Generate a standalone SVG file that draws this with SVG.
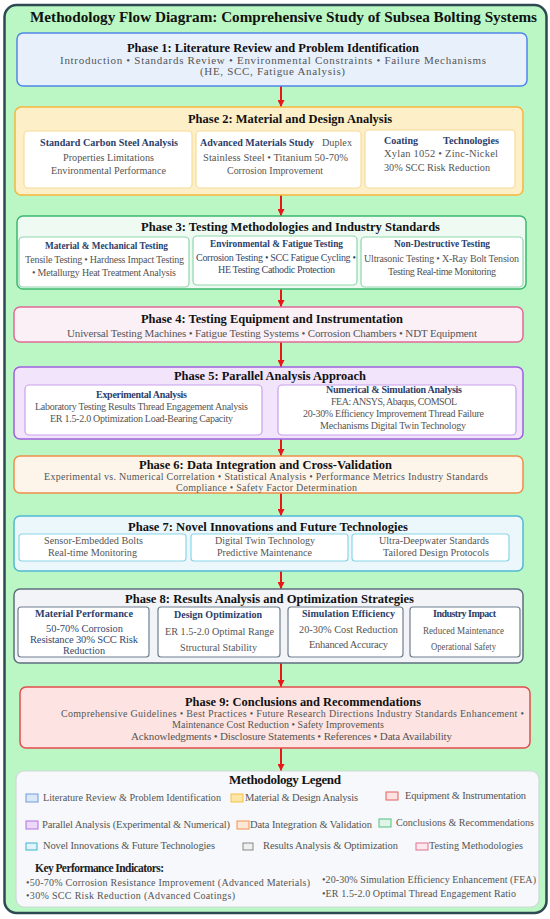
<svg xmlns="http://www.w3.org/2000/svg" width="550" height="919" viewBox="0 0 550 919">
<defs>
<marker id="ah" markerWidth="7" markerHeight="7" refX="7" refY="3.5" orient="auto" markerUnits="userSpaceOnUse"><path d="M0,0 L7,3.5 L0,7 z" fill="#e81818"/></marker>
<style>
text{font-family:"Liberation Serif",Tinos,"Times New Roman",serif}
.ttl{font-size:15.2px;font-weight:bold;fill:#111}
.ph{font-size:12.5px;font-weight:bold;fill:#111}
.tx{font-size:11px;fill:#555}
.tz{font-size:10px;fill:#555}
.sh{font-size:10px;font-weight:bold;fill:#2c3e6b}
.st{font-size:10.5px;fill:#555}
.sm{font-size:10px;fill:#555}
.nv{font-size:10.5px;fill:#34496e}
.lg{font-size:10.5px;fill:#555}
.sb{stroke-width:1.2}
.cn{stroke:#e81818;stroke-width:2;fill:none}
</style>
</defs>
<rect x="4.5" y="5" width="542" height="908" rx="12" fill="#bbf7c4" stroke="#2d4a52" stroke-width="2.5"/>
<text class="ttl" x="30" y="22" textLength="507" lengthAdjust="spacingAndGlyphs">Methodology Flow Diagram: Comprehensive Study of Subsea Bolting Systems</text>

<g id="connectors">
<line class="cn" x1="281" y1="86" x2="281" y2="107" marker-end="url(#ah)"/>
<line class="cn" x1="281" y1="195" x2="281" y2="216" marker-end="url(#ah)"/>
<line class="cn" x1="281" y1="289" x2="281" y2="307" marker-end="url(#ah)"/>
<line class="cn" x1="281" y1="342" x2="281" y2="367" marker-end="url(#ah)"/>
<line class="cn" x1="281" y1="439" x2="281" y2="456" marker-end="url(#ah)"/>
<line class="cn" x1="281" y1="493" x2="281" y2="516" marker-end="url(#ah)"/>
<line class="cn" x1="281" y1="571" x2="281" y2="589" marker-end="url(#ah)"/>
<line class="cn" x1="281" y1="663" x2="281" y2="687" marker-end="url(#ah)"/>
<line class="cn" x1="281" y1="748" x2="281" y2="771" marker-end="url(#ah)"/>
</g>

<g id="phase1">
<rect x="17" y="33" width="510" height="53" rx="6" fill="#e8f0fc" stroke="#4f86e8" stroke-width="1.5"/>
<text class="ph" x="127" y="52" textLength="292" lengthAdjust="spacingAndGlyphs">Phase 1: Literature Review and Problem Identification</text>
<text class="tx" x="60" y="64" textLength="426" lengthAdjust="spacing">Introduction • Standards Review • Environmental Constraints • Failure Mechanisms</text>
<text class="tx" x="200" y="75" textLength="145" lengthAdjust="spacing">(HE, SCC, Fatigue Analysis)</text>
</g>

<g id="phase2">
<rect x="15" y="107" width="508" height="88" rx="6" fill="#fdefc8" stroke="#f6b73c" stroke-width="1.5"/>
<text class="ph" x="188" y="123" textLength="204" lengthAdjust="spacingAndGlyphs">Phase 2: Material and Design Analysis</text>
<rect class="sb" x="24" y="131" width="168" height="57" rx="4" fill="#fff" stroke="#f8dc9a"/>
<text class="sh" x="40" y="146" textLength="138" lengthAdjust="spacingAndGlyphs">Standard Carbon Steel Analysis</text>
<text class="st" x="63" y="161" textLength="91" lengthAdjust="spacingAndGlyphs">Properties Limitations</text>
<text class="st" x="51" y="174" textLength="115" lengthAdjust="spacingAndGlyphs">Environmental Performance</text>
<rect class="sb" x="196" y="131" width="165" height="57" rx="4" fill="#fff" stroke="#f8dc9a"/>
<text class="sh" x="200" y="146" textLength="114" lengthAdjust="spacingAndGlyphs">Advanced Materials Study</text>
<text class="st" x="322" y="146" textLength="30" lengthAdjust="spacingAndGlyphs">Duplex</text>
<text class="st" x="203" y="161" textLength="145" lengthAdjust="spacing">Stainless Steel • Titanium  50-70%</text>
<text class="st" x="227" y="174" textLength="96" lengthAdjust="spacingAndGlyphs">Corrosion Improvement</text>
<rect class="sb" x="365" y="130" width="150" height="58" rx="4" fill="#fff" stroke="#f8dc9a"/>
<text class="sh" x="384" y="144" textLength="34" lengthAdjust="spacingAndGlyphs">Coating</text>
<text class="sh" x="443" y="144" textLength="56" lengthAdjust="spacingAndGlyphs">Technologies</text>
<text class="st" x="384" y="157" textLength="114" lengthAdjust="spacing">Xylan 1052 • Zinc-Nickel</text>
<text class="st" x="384" y="171" textLength="106" lengthAdjust="spacingAndGlyphs">30% SCC Risk Reduction</text>
</g>

<g id="phase3">
<rect x="17" y="216" width="509" height="73" rx="6" fill="#eefaf2" stroke="#3cb870" stroke-width="1.5"/>
<text class="ph" x="141" y="231" textLength="299" lengthAdjust="spacingAndGlyphs">Phase 3: Testing Methodologies and Industry Standards</text>
<rect class="sb" x="19" y="237" width="170" height="50" rx="4" fill="#fff" stroke="#8fd8ac"/>
<text class="sh" x="45" y="249" textLength="123" lengthAdjust="spacingAndGlyphs">Material &amp; Mechanical Testing</text>
<text class="sm" x="25" y="263" textLength="159" lengthAdjust="spacing">Tensile Testing • Hardness  Impact Testing</text>
<text class="sm" x="32" y="276" textLength="144" lengthAdjust="spacing">• Metallurgy  Heat Treatment Analysis</text>
<rect class="sb" x="193" y="236" width="164" height="49" rx="4" fill="#fff" stroke="#8fd8ac"/>
<text class="sh" x="210" y="247" textLength="133" lengthAdjust="spacingAndGlyphs">Environmental &amp; Fatigue Testing</text>
<text class="sm" x="196" y="261" textLength="160" lengthAdjust="spacing" style="fill:#34496e">Corrosion Testing • SCC Fatigue Cycling •</text>
<text class="sm" x="218" y="273" textLength="117" lengthAdjust="spacing" style="fill:#34496e">HE Testing Cathodic Protection</text>
<rect class="sb" x="361" y="237" width="162" height="50" rx="4" fill="#fff" stroke="#8fd8ac"/>
<text class="sh" x="394" y="247" textLength="96" lengthAdjust="spacingAndGlyphs">Non-Destructive Testing</text>
<text class="sm" x="364" y="262" textLength="155" lengthAdjust="spacing">Ultrasonic Testing • X-Ray  Bolt Tension</text>
<text class="sm" x="388" y="275" textLength="108" lengthAdjust="spacing">Testing Real-time Monitoring</text>
</g>

<g id="phase4">
<rect x="14" y="307" width="509" height="35" rx="6" fill="#fcf0f7" stroke="#e26a98" stroke-width="1.5"/>
<text class="ph" x="141" y="323" textLength="262" lengthAdjust="spacingAndGlyphs">Phase 4: Testing Equipment and Instrumentation</text>
<text class="tx" x="67" y="337" textLength="410" lengthAdjust="spacing">Universal Testing Machines • Fatigue Testing Systems • Corrosion Chambers • NDT Equipment</text>
</g>

<g id="phase5">
<rect x="14" y="367" width="509" height="72" rx="6" fill="#f1e4fb" stroke="#9f5fe0" stroke-width="1.5"/>
<text class="ph" x="174" y="380" textLength="192" lengthAdjust="spacingAndGlyphs">Phase 5: Parallel Analysis Approach</text>
<rect class="sb" x="25" y="385" width="237" height="50" rx="4" fill="#fff" stroke="#c9a0ee"/>
<text class="sh" x="96" y="398" textLength="91" lengthAdjust="spacing">Experimental  Analysis</text>
<text class="sm" x="35" y="410" textLength="213" lengthAdjust="spacing">Laboratory Testing Results  Thread Engagement Analysis</text>
<text class="sm" x="50" y="422" textLength="183" lengthAdjust="spacing">ER 1.5-2.0 Optimization  Load-Bearing Capacity</text>
<rect class="sb" x="278" y="385" width="238" height="50" rx="4" fill="#fff" stroke="#c9a0ee"/>
<text class="sh" x="326" y="393" textLength="136" lengthAdjust="spacing">Numerical &amp; Simulation Analysis</text>
<text class="sm" x="331" y="405" textLength="126" lengthAdjust="spacing">FEA: ANSYS, Abaqus, COMSOL</text>
<text class="sm" x="303" y="417" textLength="181" lengthAdjust="spacing">20-30% Efficiency Improvement  Thread Failure</text>
<text class="sm" x="320" y="429" textLength="146" lengthAdjust="spacing">Mechanisms  Digital Twin Technology</text>
</g>

<g id="phase6">
<rect x="14" y="456" width="509" height="37" rx="6" fill="#fdf4ea" stroke="#ef8f4a" stroke-width="1.5"/>
<text class="ph" x="139" y="469" textLength="253" lengthAdjust="spacingAndGlyphs">Phase 6: Data Integration and Cross-Validation</text>
<text class="tz" x="44" y="480" textLength="444" lengthAdjust="spacing">Experimental vs. Numerical Correlation • Statistical Analysis • Performance Metrics  Industry Standards</text>
<text class="tz" x="176" y="490.5" textLength="181" lengthAdjust="spacing">Compliance • Safety Factor Determination</text>
</g>

<g id="phase7">
<rect x="14" y="516" width="509" height="55" rx="6" fill="#ecf7fb" stroke="#4fb9d4" stroke-width="1.5"/>
<text class="ph" x="128" y="531" textLength="280" lengthAdjust="spacingAndGlyphs">Phase 7: Novel Innovations and Future Technologies</text>
<rect class="sb" x="19" y="534" width="167" height="27" rx="3" fill="#fff" stroke="#8ad6e8"/>
<text class="st" x="44" y="544" textLength="99" lengthAdjust="spacingAndGlyphs">Sensor-Embedded Bolts</text>
<text class="st" x="48" y="556" textLength="89" lengthAdjust="spacingAndGlyphs">Real-time Monitoring</text>
<rect class="sb" x="191" y="534" width="157" height="27" rx="3" fill="#fff" stroke="#8ad6e8"/>
<text class="st" x="215" y="544" textLength="100" lengthAdjust="spacingAndGlyphs">Digital Twin Technology</text>
<text class="st" x="217" y="556" textLength="95" lengthAdjust="spacingAndGlyphs">Predictive Maintenance</text>
<rect class="sb" x="352" y="534" width="157" height="27" rx="3" fill="#fff" stroke="#8ad6e8"/>
<text class="st" x="379" y="544" textLength="110" lengthAdjust="spacingAndGlyphs">Ultra-Deepwater Standards</text>
<text class="st" x="383" y="556" textLength="106" lengthAdjust="spacingAndGlyphs">Tailored Design Protocols</text>
</g>

<g id="phase8">
<rect x="14" y="589" width="509" height="74" rx="6" fill="#f2f4f7" stroke="#5f6f7f" stroke-width="1.5"/>
<text class="ph" x="125" y="603" textLength="289" lengthAdjust="spacingAndGlyphs">Phase 8: Results Analysis and Optimization Strategies</text>
<rect class="sb" x="18" y="607" width="131" height="50" rx="3" fill="#fff" stroke="#6f7f90"/>
<text class="sh" x="35" y="617" textLength="98" lengthAdjust="spacingAndGlyphs">Material Performance</text>
<text class="nv" x="46" y="632" textLength="77" lengthAdjust="spacingAndGlyphs">50-70% Corrosion</text>
<text class="nv" x="30" y="643" textLength="108" lengthAdjust="spacing">Resistance 30% SCC Risk</text>
<text class="nv" x="63" y="654" textLength="42" lengthAdjust="spacingAndGlyphs">Reduction</text>
<rect class="sb" x="158" y="607" width="122" height="50" rx="3" fill="#fff" stroke="#6f7f90"/>
<text class="sh" x="174" y="618" textLength="88" lengthAdjust="spacingAndGlyphs">Design Optimization</text>
<text class="st" x="165" y="635" textLength="109" lengthAdjust="spacingAndGlyphs">ER 1.5-2.0 Optimal Range</text>
<text class="st" x="180" y="651" textLength="77" lengthAdjust="spacingAndGlyphs">Structural Stability</text>
<rect class="sb" x="288" y="607" width="115" height="50" rx="3" fill="#fff" stroke="#6f7f90"/>
<text class="sh" x="302" y="617" textLength="93" lengthAdjust="spacing">Simulation  Efficiency</text>
<text class="st" x="299" y="633" textLength="99" lengthAdjust="spacingAndGlyphs">20-30% Cost Reduction</text>
<text class="st" x="309" y="648" textLength="79" lengthAdjust="spacing">Enhanced  Accuracy</text>
<rect class="sb" x="410" y="607" width="110" height="50" rx="3" fill="#fff" stroke="#6f7f90"/>
<text class="sh" x="433" y="617" textLength="63" lengthAdjust="spacing">Industry  Impact</text>
<text class="st" x="423" y="634" textLength="81" lengthAdjust="spacingAndGlyphs">Reduced Maintenance</text>
<text class="st" x="431" y="650" textLength="65" lengthAdjust="spacingAndGlyphs">Operational Safety</text>
</g>

<g id="phase9">
<rect x="20" y="687" width="510" height="61" rx="6" fill="#fde4e2" stroke="#e24c4c" stroke-width="1.5"/>
<text class="ph" x="185" y="706" textLength="236" lengthAdjust="spacingAndGlyphs">Phase 9: Conclusions and Recommendations</text>
<text class="tz" x="61" y="717" textLength="463" lengthAdjust="spacing">Comprehensive Guidelines • Best Practices • Future Research Directions  Industry Standards Enhancement •</text>
<text class="tz" x="172" y="728" textLength="212" lengthAdjust="spacing">Maintenance  Cost Reduction • Safety  Improvements</text>
<text class="tx" x="131" y="740" textLength="321" lengthAdjust="spacing">Acknowledgments  • Disclosure Statements  • References • Data Availability</text>
</g>

<g id="legend">
<rect x="16" y="771" width="523" height="136" rx="8" fill="#f6f8fb" stroke="#cfd8d8" stroke-width="1.2"/>
<text x="229" y="784" textLength="112" lengthAdjust="spacing" style="font-size:13px;font-weight:bold;fill:#111">Methodology  Legend</text>
<rect x="26" y="794" width="12" height="8" fill="#dce8f8" stroke="#6b9be0"/>
<text class="lg" x="43" y="801" textLength="178" lengthAdjust="spacingAndGlyphs">Literature Review &amp; Problem Identification</text>
<rect x="231" y="794" width="12" height="8" fill="#fde6a8" stroke="#f5c242"/>
<text class="lg" x="245" y="801" textLength="113" lengthAdjust="spacing">Material &amp; Design Analysis</text>
<rect x="386" y="792" width="12" height="8" fill="#fde0e0" stroke="#e06060"/>
<text class="lg" x="405" y="799" textLength="121" lengthAdjust="spacing">Equipment &amp; Instrumentation</text>
<rect x="26" y="821" width="12" height="8" fill="#ecd8f8" stroke="#b070e0"/>
<text class="lg" x="42" y="828" textLength="188" lengthAdjust="spacing">Parallel Analysis  (Experimental &amp; Numerical)</text>
<rect x="237" y="821" width="12" height="8" fill="#fde8d8" stroke="#f09050"/>
<text class="lg" x="250" y="828" textLength="122" lengthAdjust="spacing">Data Integration &amp; Validation</text>
<rect x="379" y="819" width="12" height="8" fill="#e0f5e8" stroke="#50c080"/>
<text class="lg" x="396" y="826" textLength="138" lengthAdjust="spacingAndGlyphs">Conclusions &amp; Recommendations</text>
<rect x="26" y="843" width="11" height="7" fill="#e0f4fa" stroke="#40b0d0"/>
<text class="lg" x="43" y="849" textLength="172" lengthAdjust="spacing">Novel Innovations &amp; Future Technologies</text>
<rect x="243" y="843" width="10" height="7" fill="#f0f0f0" stroke="#888"/>
<text class="lg" x="263" y="849" textLength="135" lengthAdjust="spacing">Results Analysis &amp; Optimization</text>
<rect x="416" y="843" width="12" height="7" fill="#fde8f0" stroke="#e07090"/>
<text class="lg" x="429" y="849" textLength="94" lengthAdjust="spacingAndGlyphs">Testing Methodologies</text>
<text x="35" y="872" textLength="129" lengthAdjust="spacing" style="font-size:11.5px;font-weight:bold;fill:#222">Key Performance  Indicators:</text>
<text class="sm" x="26" y="886" textLength="284" lengthAdjust="spacing">•50-70% Corrosion Resistance Improvement  (Advanced Materials)</text>
<text class="sm" x="26" y="899" textLength="209" lengthAdjust="spacing">•30% SCC Risk Reduction (Advanced Coatings)</text>
<text class="sm" x="322" y="883" textLength="214" lengthAdjust="spacing">•20-30% Simulation Efficiency Enhancement (FEA)</text>
<text class="sm" x="322" y="897" textLength="194" lengthAdjust="spacing">•ER 1.5-2.0 Optimal Thread  Engagement Ratio</text>
</g>
</svg>
